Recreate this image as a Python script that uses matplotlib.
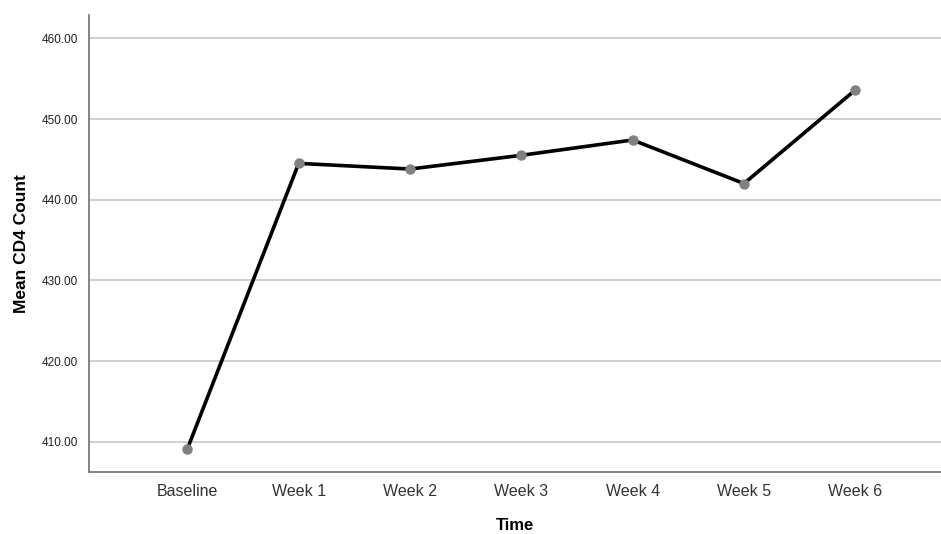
import matplotlib
matplotlib.use("Agg")
import matplotlib.pyplot as plt
import numpy as np

# values
time_points = ["Baseline", "Week 1", "Week 2", "Week 3", "Week 4", "Week 5", "Week 6"]
mean_cd4 = [409.1, 444.5, 443.8, 445.5, 447.4, 442.0, 453.6]
y_ticks = [410, 420, 430, 440, 450, 460]

plt.rcParams['font.family'] = ['Liberation Sans', 'DejaVu Sans']

fig = plt.figure(figsize=(9.41, 5.34), dpi=100)
ax = fig.add_axes([0.095, 0.117, 0.905, 0.855])

x = np.arange(len(time_points))
ax.plot(x, mean_cd4, color='black', linewidth=2.6, zorder=3)
ax.plot(x, mean_cd4, linestyle='none', marker='o', markersize=6.5,
        color='#808080', zorder=4)

ax.set_xlim(-0.88, 6.77)
ax.set_ylim(406.3, 462.9)
ax.set_yticks(y_ticks)
ax.set_yticklabels([f"{v:.2f}" for v in y_ticks], fontsize=8.5, color='#222222')
ax.set_xticks(x)
ax.set_xticklabels(time_points, fontsize=11.5, color='#333333')

ax.grid(axis='y', color='#c8c8c8', linewidth=1.2, zorder=0)
ax.set_axisbelow(True)
ax.tick_params(axis='both', length=0)
ax.tick_params(axis='x', pad=9)
ax.tick_params(axis='y', pad=8)

for side in ['top', 'right']:
    ax.spines[side].set_visible(False)
for side in ['left', 'bottom']:
    ax.spines[side].set_color('#707070')
    ax.spines[side].set_linewidth(1.2)

ax.set_xlabel("Time", fontsize=12, fontweight='bold', labelpad=14)
ax.set_ylabel("Mean CD4 Count", fontsize=12.5, fontweight='bold', labelpad=9)

fig.savefig("out.png", dpi=100)
